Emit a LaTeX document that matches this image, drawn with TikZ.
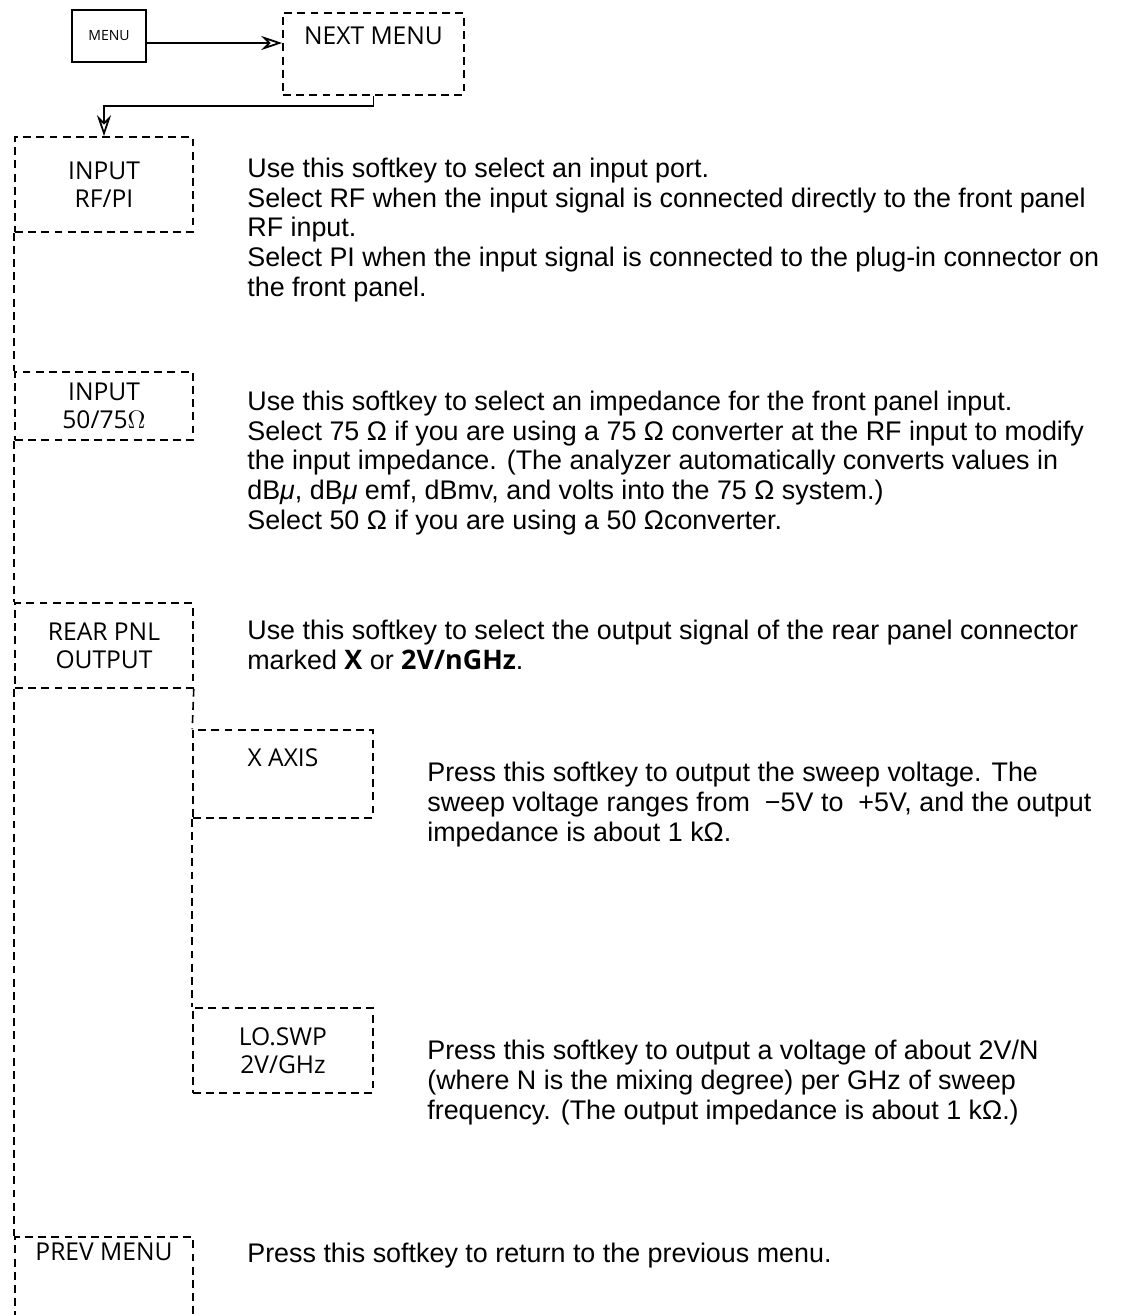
\documentclass[tikz,border=0pt]{standalone}
\usepackage{fontspec}
\setmainfont{Liberation Sans}
\newfontfamily\keyfont{Open Sans}
\usetikzlibrary{arrows.meta,positioning}

\begin{document}
\begin{tikzpicture}[x=0.02cm, y=-0.02cm,
  key/.style={draw, dash pattern=on 4.5pt off 3pt, line width=0.9pt, minimum width=3.56cm, inner sep=0pt, align=center, font=\keyfont\fontsize{14}{16}\selectfont},
  keylbl/.style={anchor=center, inner sep=0pt, font=\keyfont\fontsize{14}{16}\selectfont},
  hard/.style={draw, line width=1pt, minimum width=1.48cm, minimum height=1.04cm, font=\keyfont\fontsize{8}{10}\selectfont},
  keyline/.style={dash pattern=on 4.5pt off 3pt, line width=0.9pt},
  desc/.style={anchor=base west, align=left, inner sep=0pt, font=\fontsize{15.3}{16.85}\selectfont},
  arr/.style={-{Stealth[open, length=12pt, width=8pt, inset=4pt]}, line width=1pt}
]
\useasboundingbox (0,0) rectangle (1122,1315);
\clip (0,0) rectangle (1122,1315);

% menu keys
\node[hard] (menu) at (109,36) {MENU};
\node[key, minimum width=3.62cm, minimum height=1.64cm, label={[keylbl, yshift=-0.48cm]north:NEXT MENU}] (next) at (373.5,54) {};
\node[key, minimum height=1.9cm] (rfpi) at (104,184.5) {INPUT\\RF/PI};
\node[key, minimum height=1.36cm] (imp) at (104,406) {INPUT\\50/75$\Omega$};
\node[key, minimum height=1.7cm] (rear) at (104,645.5) {REAR PNL\\OUTPUT};
\node[key, minimum width=3.6cm, minimum height=1.76cm, label={[keylbl, yshift=-0.56cm]north:X AXIS}] (xaxis) at (283,774) {};
\node[key, minimum width=3.6cm, minimum height=1.7cm] (loswp) at (283,1050.5) {LO.SWP\\2V/GHz};
\node[key, minimum height=2.2cm, label={[keylbl, yshift=-0.32cm]north:PREV MENU}] (prev) at (104,1292) {};

\draw[arr] ([yshift=-0.14cm]menu.east) -- ([yshift=-0.14cm]menu.east -| next.west);
\draw[arr] (next.south) -- ++(0,10) -| (rfpi.north);

% dashed tree lines
\draw[keyline] (rfpi.south west) -- (imp.north west);
\draw[keyline] (imp.south west) -- (rear.north west);
\draw[keyline] (rear.south west) -- (prev.north west);
\draw[keyline] (rear.south east) -- (xaxis.north west);
\draw[keyline] (xaxis.south west) -- (loswp.north west);

% descriptions (base = last line)
\node[desc] (drfpi) at (247,296) {Use this softkey to select an input port.\\
Select RF when the input signal is connected directly to the front panel\\
RF input.\\
Select PI when the input signal is connected to the plug-in connector on\\
the front panel.};
\node[desc] (dimp) at (247,529) {Use this softkey to select an impedance for the front panel input.\\
Select 75 Ω if you are using a 75 Ω converter at the RF input to modify\\
the input impedance. (The analyzer automatically converts values in\\
dB\textit{μ}, dB\textit{μ} emf, dBmv, and volts into the 75 Ω system.)\\
Select 50 Ω if you are using a 50 Ωconverter.};
\node[desc] (drear) at (247,669) {Use this softkey to select the output signal of the rear panel connector\\
marked {\keyfont\bfseries X} or {\keyfont\bfseries 2V/nGHz}.};
\node[desc] (dxaxis) at (427,841) {Press this softkey to output the sweep voltage. The\\
sweep voltage ranges from \ −5V to \ +5V, and the output\\
impedance is about 1 kΩ.};
\node[desc] (dloswp) at (427,1119) {Press this softkey to output a voltage of about 2V/N\\
(where N is the mixing degree) per GHz of sweep\\
frequency. (The output impedance is about 1 kΩ.)};
\node[desc] (dprev) at (247,1262) {Press this softkey to return to the previous menu.};
\end{tikzpicture}
\end{document}
